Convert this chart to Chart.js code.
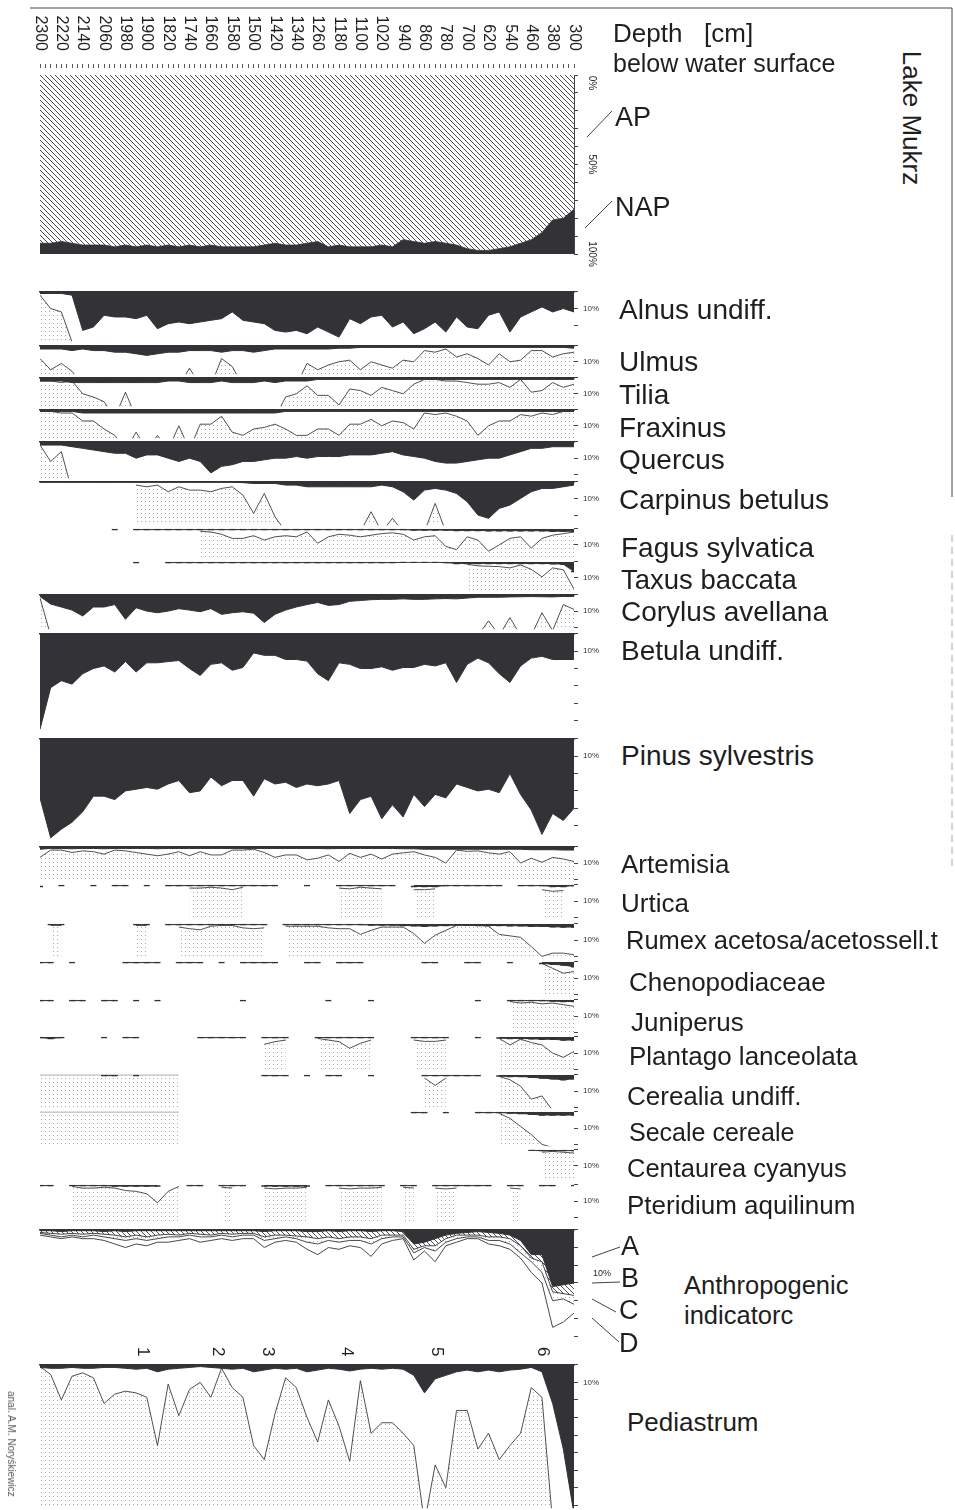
<!DOCTYPE html>
<html>
<head>
<meta charset="utf-8">
<script src="https://cdn.jsdelivr.net/npm/chart.js@4.4.1/dist/chart.umd.min.js"></script>
<style>
  body { margin: 0; width: 955px; height: 1510px; position: relative; overflow: hidden; background: #fff;
         font-family: "Liberation Sans", Arial, sans-serif; color: #1e1e1e; }
  .panel { position: absolute; left: 0; width: 620px; }
  .lbl { position: absolute; white-space: pre; line-height: 1; transform: translateY(-50%); }
  .rot { position: absolute; white-space: pre; line-height: 1; transform: translate(-50%, -50%) rotate(90deg); }
  svg { position: absolute; left: 0; top: 0; }
</style>
</head>
<body>
<svg width="955" height="1510">
  <g stroke="#444" stroke-width="1" fill="none">
    <line x1="30" y1="8" x2="952" y2="8"/>
    <line x1="952" y1="8" x2="952" y2="497"/>
    <line x1="952" y1="535" x2="952" y2="870" stroke="#aaa" stroke-dasharray="7 5"/>
    <line x1="587" y1="137" x2="612" y2="111"/>
    <line x1="585" y1="228" x2="612" y2="201"/>
    <line x1="592" y1="1257" x2="620" y2="1247"/>
    <line x1="592" y1="1283" x2="620" y2="1282"/>
    <line x1="592" y1="1299" x2="616" y2="1312"/>
    <line x1="592" y1="1318" x2="619" y2="1342"/>
  </g>
</svg>
<script>
const _ = null;
const FONT = '"Liberation Sans", Arial, sans-serif';

// depth of samples, cm below water surface
const depths = [
  2300, 2260, 2220, 2180, 2140, 2100, 2060, 2020, 1980, 1940,
  1900, 1860, 1820, 1780, 1740, 1700, 1660, 1620, 1580, 1540,
  1500, 1460, 1420, 1380, 1340, 1300, 1260, 1220, 1180, 1140,
  1100, 1060, 1020, 980, 940, 900, 860, 820, 780, 740,
  700, 660, 620, 580, 540, 500, 460, 420, 380, 340,
  300
];
const depthTicks = [2300, 2220, 2140, 2060, 1980, 1900, 1820, 1740, 1660, 1580, 1500, 1420, 1340,
  1260, 1180, 1100, 1020, 940, 860, 780, 700, 620, 540, 460, 380, 300];
const apTicks = [0, 50, 100];
const zoneDepths = [1914, 1633, 1446, 1150, 813, 416];
const zoneLabels = ['1', '2', '3', '4', '5', '6'];

// % AP (rest is NAP)
const ap = [
  94, 94, 93, 94, 95, 95, 95, 96, 95, 96,
  95, 96, 95, 96, 95, 96, 95, 96, 96, 96,
  96, 95, 94, 95, 95, 94, 93, 96, 95, 96,
  96, 96, 95, 96, 92, 93, 94, 93, 94, 95,
  97, 98, 98, 97, 96, 94, 92, 88, 81, 80,
  75
];

const alnus = [
  1, 1, 1, 2, 23, 21, 14, 15, 15, 16,
  14, 22, 19, 18, 19, 18, 17, 16, 12, 17,
  18, 19, 23, 24, 23, 25, 21, 24, 27, 16,
  19, 15, 14, 21, 18, 25, 22, 18, 24, 15,
  21, 22, 14, 12, 24, 15, 12, 9, 12, 10,
  12
];
const alnusExag = [
  2, 10, 12, 30, _, _, _, _, _, _,
  _, _, _, _, _, _, _, _, _, _,
  _, _, _, _, _, _, _, _, _, _,
  _, _, _, _, _, _, _, _, _, _,
  _, _, _, _, _, _, _, _, _, _,
  _
];
const ulmus = [
  2, 2, 2, 3, 2, 3, 3, 4, 4, 5,
  6, 5, 4, 4, 3, 3, 3, 4, 3, 3,
  4, 3, 2, 2, 2, 2, 2, 2, 1.5, 1.5,
  1, 1, 1, 1, 1, 1, 1, 1, 1, 1,
  1, 1, 1, 1, 1, 1, 1, 1, 1, 1,
  1.5
];
const ulmusExag = [
  8, 15, 11, 16, 25, _, _, _, _, _,
  _, _, _, 25, 14, 25, 25, 8, 13, 25,
  _, _, _, _, 25, 11, 15, 12, 10, 9,
  15, 10, 12, 14, 9, 10, 3, 4, 2, 7,
  5, 8, 12, 5, 10, 9, 3, 3, 7, 5,
  4
];
const tilia = [
  2, 2, 2, 3, 3, 3, 3, 3, 3, 3,
  3, 3, 2, 2, 3, 3, 3, 2, 3, 3,
  3, 2, 3, 2, 2, 2, 1, 1, 1, 1,
  1, 1, 1, 1, 1, 1, 1, 1, 1, 1,
  1, 1, 1, 1, 1, 1, 1, 1, 1, 1,
  1
];
const tiliaExag = [
  2, 2, 3, 2, 10, 12, 15, 25, 9, 25,
  _, _, _, _, _, _, _, _, _, _,
  _, _, 25, 12, 10, 5, 11, 11, 17, 7,
  8, 11, 6, 8, 10, 4, 1, 1, 2, 2,
  3, 4, 4, 3, 6, 1, 9, 8, 3, 6,
  4
];
const fraxinus = [
  1, 1, 1, 1, 2, 2, 2, 2, 2, 2,
  2, 2, 2, 2, 2, 2, 2, 2, 2, 2,
  2, 2, 2, 1, 1, 1, 1, 1, 1, 1,
  1, 1, 1, 1, 1, 1, 1, 1, 1, 1,
  1, 1, 1, 1, 1, 1, 1, 1, 1, 1,
  1
];
const fraxinusExag = [
  1, 1, 2, 2, 7, 7, 12, 16, 25, 14,
  25, 16, 25, 10, 25, 9, 9, 4, 14, 16,
  12, 11, 9, 12, 16, 16, 12, 12, 16, 9,
  9, 6, 10, 7, 8, 12, 2, 3, 2, 4,
  7, 16, 10, 7, 7, 3, 4, 2, 3, 1,
  1
];
const quercus = [
  2, 2, 2, 3, 4, 5, 6, 7, 7, 10,
  8, 8, 10, 12, 10, 12, 19, 15, 14, 12,
  12, 11, 10, 10, 9, 10, 9, 9, 9, 8,
  8, 8, 7, 6, 8, 9, 10, 12, 13, 13,
  12, 11, 10, 10, 8, 6, 4, 4, 3, 3,
  3
];
const quercusExag = [
  2, 12, 6, 30, _, _, _, _, _, _,
  _, _, _, _, _, _, _, _, _, _,
  _, _, _, _, _, _, _, _, _, _,
  _, _, _, _, _, _, _, _, _, _,
  _, _, _, _, _, _, _, _, _, _,
  _
];
const carpinus = [
  0.3, 0.3, 0.3, 0.3, 0.3, 0.3, 0.3, 0.3, 0.3, 0.3,
  0.3, 0.3, 0.3, 0.3, 0.3, 0.3, 0.3, 0.3, 0.3, 0.5,
  1, 1, 1, 2, 2, 3, 3, 3, 3, 3,
  3, 3, 2, 3, 6, 11, 5, 4, 5, 7,
  12, 20, 22, 16, 14, 10, 6, 4, 4, 3,
  2
];
const carpinusExag = [
  _, _, _, _, _, _, _, _, _, 2,
  3, 2, 6, 3, 5, 5, 6, 4, 3, 8,
  19, 7, 21, 30, _, _, _, _, _, _,
  30, 18, 30, 22, 30, _, 30, 13, 30, _,
  _, _, _, _, _, _, _, _, _, _,
  _
];
const fagus = [
  _, _, _, _, _, _, _, 0.5, _, 0.5,
  0.5, 0.5, 0.5, 0.5, 0.5, 0.5, 0.5, 0.5, 0.5, 0.5,
  0.5, 0.5, 0.5, 0.5, 0.5, 0.5, 0.5, 0.5, 0.5, 0.5,
  0.5, 0.5, 0.5, 0.5, 0.5, 0.8, 0.8, 0.8, 0.8, 1,
  1, 1, 1.2, 1.2, 1.2, 1.2, 1.2, 1.2, 1.5, 1.5,
  1.5
];
const fagusExag = [
  _, _, _, _, _, _, _, _, _, _,
  _, _, _, _, _, 1.5, 2, 3.4, 6, 6,
  4.3, 7, 5, 4.3, 5, 2, 9, 5, 3.4, 4,
  5, 4, 3, 2.5, 3.4, 7, 5, 4.3, 11, 13,
  5, 7, 14, 10, 6, 5, 12, 6, 4, 3,
  2
];
const taxus = [
  _, _, _, _, _, _, _, _, _, 0.5,
  _, _, 0.5, 0.5, 0.5, 0.5, 0.5, 0.5, 0.5, 0.5,
  0.5, 0.5, 0.5, 0.5, 0.5, 0.5, 0.5, 0.5, 0.5, 0.5,
  0.5, 0.5, 0.5, 0.5, 0.3, 0.3, 0.3, 0.3, 0.5, 1,
  1, 1, 1, 1, 1, 1, 1, 1, 1.2, 1.5,
  6
];
const taxusExag = [
  _, _, _, _, _, _, _, _, _, _,
  _, _, _, _, _, _, _, _, _, _,
  _, _, _, _, _, _, _, _, _, _,
  _, _, _, _, _, _, _, _, _, _,
  1.5, 2.5, 2.8, 3, 3.8, 2, 4.7, 9.4, 3.8, 5,
  17
];
const corylus = [
  1, 5.7, 7.5, 9.4, 13, 7.5, 7.5, 6, 15, 8,
  10, 11, 10, 8.5, 9.4, 10.4, 8.5, 12, 11, 10.4,
  11.3, 17, 12, 9.4, 7.5, 6, 4.7, 6.5, 6, 4,
  3.5, 3, 2.8, 2.8, 2.5, 2.8, 2.8, 2.5, 2.3, 2.5,
  2, 1.5, 1.5, 1.5, 1.3, 1.2, 1.1, 1.2, 1.3, 1,
  1
];
const corylusExag = [
  2, 25, _, _, _, _, _, _, _, _,
  _, _, _, _, _, _, _, _, _, _,
  _, _, _, _, _, _, _, _, _, _,
  _, _, _, _, _, _, _, _, _, _,
  _, 25, 16, 25, 14, 25, 25, 11, 22, 6,
  9
];
const betula = [
  55, 31, 27, 29, 23, 20, 18.5, 22, 16, 22,
  16.7, 16.7, 16, 15.4, 20, 24, 17.6, 16.7, 21, 19.4,
  11, 12.4, 12.4, 14.8, 14.8, 15.7, 23, 27, 16.7, 17.6,
  20, 20, 19, 21, 19.4, 19.4, 17.6, 18.5, 16.7, 28,
  17.6, 14, 16.7, 23, 28, 18.5, 14, 13, 14.8, 14.8,
  14.8
];
const pinus = [
  34, 57, 52, 48, 42, 33, 33, 35, 30, 29,
  28, 29, 26, 24, 31, 30, 22, 27, 24, 24,
  33, 23, 26, 25, 28, 26, 27, 26, 24, 43,
  35, 33, 46, 38, 45, 32, 39, 32, 34, 26,
  28, 30, 29, 31, 20, 32, 41, 55, 43, 47,
  40
];
const artemisia = [
  1.5, 1, 1, 1.2, 1, 1, 1.2, 1, 1, 1,
  1, 1.2, 1, 1, 1, 1, 1, 1, 1, 1,
  1, 1, 1, 1, 1, 1, 1, 1.2, 1, 1,
  1, 1, 1, 1, 1.2, 1.2, 1.5, 1.5, 1.5, 1.5,
  1.5, 1.5, 1.5, 1.5, 1.5, 1.5, 1.8, 1.8, 1.8, 2,
  2
];
const artemisiaExag = [
  6.5, 2, 2, 3.5, 2.5, 3, 4.5, 2, 2.5, 3.5,
  4.5, 5.5, 4.5, 3, 5.5, 3, 5, 5, 2, 2,
  1.5, 3.5, 6.5, 5, 5, 8, 7, 5, 9, 4,
  6.5, 4.5, 7.5, 4.5, 3.7, 3, 5, 6.5, 10, 2,
  2.8, 2.5, 3.7, 4.5, 3, 10, 7, 9.5, 6.5, 7.5,
  9
];
const urtica = [
  1, _, 0.5, _, _, 0.5, _, 0.5, 0.5, _,
  0.5, _, 0.5, 0.5, 0.5, 0.5, 0.5, 0.5, 0.5, 0.5,
  0.5, 0.5, 0.5, _, _, 0.5, _, _, 0.5, 0.5,
  0.5, 0.5, 0.5, 0.5, _, 1, 1, 1, 0.5, 0.5,
  0.5, 0.5, 0.5, 0.5, _, 0.5, 0.5, 0.5, 1, 1,
  0.5
];
const urticaExag = [
  _, _, _, _, _, _, _, _, _, _,
  _, _, _, _, 2, 2, 1.5, 2, 3, 1.5,
  _, _, _, _, _, _, _, _, 2, 2.5,
  1.5, 2, 2.5, _, _, 3, 3, 2.5, _, _,
  _, _, _, _, _, _, _, 3, 4, 3.5,
  _
];
const rumex = [
  _, 0.5, 0.5, _, _, _, _, _, _, 0.5,
  0.5, _, 0.5, 0.5, 0.5, 0.5, 0.5, 0.5, 0.5, 0.5,
  0.5, 0.5, _, 0.5, 0.5, 0.5, 0.5, 0.5, 0.5, 0.5,
  0.5, 0.8, 0.8, 0.8, 1, 1.2, 1.5, 1.2, 1, 0.8,
  0.8, 1, 1, 1, 1.2, 1.2, 1.5, 1.5, 1.8, 2,
  2
];
const rumexExag = [
  _, 1, 1, _, _, _, _, _, _, 1,
  1, _, _, 2, 3, 3.7, 1.5, 1, 1, 2.5,
  3, 2.5, _, 1.5, 1.5, 1.5, 1.5, 2.5, 3, 3,
  6.5, 4, 2, 2, 2, 6, 12, 7, 4, 1,
  1, 1, 1.5, 6.5, 7.4, 8.3, 14, 20, 18, 18,
  19
];
const cheno = [
  0.5, 0.5, _, 0.5, _, _, _, _, 0.5, 0.5,
  0.5, 0.5, _, 0.5, 0.5, 0.5, _, 0.5, _, 0.5,
  0.5, 0.5, 0.5, _, _, 0.5, 0.5, _, 0.5, 0.5,
  0.5, _, _, _, _, _, 0.5, 0.5, _, _,
  0.5, 0.5, _, _, 0.5, _, _, 1, 1.5, 2,
  3
];
const chenoExag = [
  _, _, _, _, _, _, _, _, _, _,
  _, _, _, _, _, _, _, _, _, _,
  _, _, _, _, _, _, _, _, _, _,
  _, _, _, _, _, _, _, _, _, _,
  _, _, _, _, _, _, _, 1, 4, 7,
  6
];
const juniperus = [
  0.5, 0.5, _, 0.5, 0.5, _, 0.5, 0.5, _, 0.5,
  _, 0.5, _, _, _, _, _, _, _, 0.5,
  _, _, _, _, _, _, _, 0.5, _, _,
  _, 0.5, _, _, _, _, _, _, _, _,
  _, 0.5, _, _, 0.5, 0.5, 0.5, 0.5, 0.8, 1,
  1
];
const juniperusExag = [
  _, _, _, _, _, _, _, _, _, _,
  _, _, _, _, _, _, _, _, _, _,
  _, _, _, _, _, _, _, _, _, _,
  _, _, _, _, _, _, _, _, _, _,
  _, _, _, _, 1, 2, 1.5, 2.5, 2, 3,
  4
];
const plantago = [
  0.5, 1, 0.5, _, _, _, 0.5, _, 0.5, 0.5,
  _, _, _, _, _, 0.5, 0.5, 0.5, 0.5, 0.5,
  _, 0.5, 0.5, 0.5, _, _, 0.5, 0.5, 0.5, 0.5,
  0.5, 0.5, _, _, _, 0.5, 0.5, 0.5, 0.5, _,
  _, 0.5, _, 0.8, 1, 1, 1.2, 1.5, 1.5, 2,
  2
];
const plantagoExag = [
  _, _, _, _, _, _, _, _, _, _,
  _, _, _, _, _, _, _, _, _, _,
  _, 4.6, 3, 2, _, _, 1, 2, 3, 7,
  4, 2, _, _, _, 2, 2.8, 2.8, 2, _,
  _, _, _, 1, 5, 1.5, 3.5, 5, 10, 12.6,
  9
];
const cerealia = [
  _, _, _, _, _, _, 0.5, 0.5, _, 0.5,
  _, _, _, _, _, _, _, _, _, _,
  _, 0.5, 0.5, 0.5, _, 0.5, _, 0.5, 0.5, _,
  _, 0.5, _, _, _, _, 0.5, 0.5, 0.5, 0.5,
  0.5, 0.5, _, 0.8, 1, 1, 1.5, 2, 2.5, 3,
  2.5
];
const cerealiaExag = [
  0, 0, 0, 0, 0, 0, 0, 0, 0, 0,
  0, 0, 0, 0, _, _, _, _, _, _,
  _, _, _, _, _, _, _, _, _, _,
  _, _, _, _, _, _, 2, 6.5, 2, _,
  _, _, _, 1, 3, 7, 15, 13, 22, 22,
  22
];
const secale = [
  _, _, _, _, _, _, _, _, _, _,
  _, _, _, _, _, _, _, _, _, _,
  _, _, _, _, _, _, _, _, _, _,
  _, _, _, _, _, 0.5, 0.5, _, 0.5, _,
  _, 0.5, 0.5, 0.5, 0.8, 1, 1.5, 2, 2, 2,
  2
];
const secaleExag = [
  0, 0, 0, 0, 0, 0, 0, 0, 0, 0,
  0, 0, 0, 0, _, _, _, _, _, _,
  _, _, _, _, _, _, _, _, _, _,
  _, _, _, _, _, _, _, _, _, _,
  _, _, _, 1, 4, 9, 14, 20, 22, 22,
  22
];
const centaurea = [
  _, _, _, _, _, _, _, _, _, _,
  _, _, _, _, _, _, _, _, _, _,
  _, _, _, _, _, _, _, _, _, _,
  _, _, _, _, _, _, _, _, _, _,
  _, _, _, _, _, _, 0.3, 0.5, 0.5, 0.5,
  0.5
];
const centaureaExag = [
  _, _, _, _, _, _, _, _, _, _,
  _, _, _, _, _, _, _, _, _, _,
  _, _, _, _, _, _, _, _, _, _,
  _, _, _, _, _, _, _, _, _, _,
  _, _, _, _, _, _, _, 1.5, 1, 1.5,
  2
];
const pteridium = [
  0.5, 0.5, _, 0.5, 0.5, 0.5, 0.5, 0.8, 0.8, 0.8,
  0.8, 0.8, _, _, 0.5, 0.5, _, 0.5, 0.5, 0.5,
  _, 0.8, 0.8, 0.8, 0.8, 0.8, _, 0.5, 0.5, 0.5,
  0.5, 0.5, 0.5, _, 0.5, 0.5, _, 0.5, 0.5, 0.5,
  0.5, 0.5, 0.5, _, 0.5, 0.5, _, 0.5, 0.5, _,
  0.5
];
const pteridiumExag = [
  _, _, _, 1, 2, 2, 1.5, 2, 3.5, 4,
  5.5, 11, 4, 1, _, _, _, 1.5, 2, _,
  _, 2, 2.5, 2, 2, 1.5, _, _, 2, 2.5,
  2, 2, 1.5, _, 1.5, 2, _, 2, 2.5, 2,
  _, _, _, _, 2, 2.5, _, _, _, _,
  _
];
// anthropogenic indicators, cumulative curves A-D
const anthroA = [
  0.5, 0.5, 1, 0.5, 0.5, 0.5, 1, 0.5, 1, 0.5,
  0.5, 0.5, 0.5, 0.5, 0.5, 0.5, 0.5, 0.5, 0.5, 0.5,
  0.5, 1, 0.5, 0.5, 0.5, 1, 1, 0.5, 1, 0.5,
  0.5, 1, 0.5, 0.5, 1, 8, 7, 5, 3, 2,
  1.5, 1, 1.5, 2, 3, 6, 14, 14, 32, 31,
  30
];
const anthroB = [
  1.5, 2, 2.5, 2, 2.5, 2, 2.5, 3, 4, 3,
  4, 3, 2.5, 3, 2, 2.5, 3, 2, 2.5, 2,
  2, 4, 3, 3, 3.5, 4, 5, 4, 5, 4,
  4, 5, 3, 3, 3, 11, 9, 9, 5, 3,
  3, 3, 4, 4, 5, 9, 16, 18, 35, 36,
  37
];
const anthroC = [
  2, 3, 4, 3, 4, 3, 4, 5, 6, 5,
  6, 5, 4, 4, 3, 4, 4, 3, 4, 3,
  3, 6, 5, 4, 5, 7, 8, 6, 7, 6,
  6, 8, 5, 4, 4, 13, 10, 12, 7, 5,
  4, 4, 6, 6, 8, 13, 18, 24, 40, 39,
  42
];
const anthroD = [
  3, 4, 5, 4, 5, 5, 6, 8, 10, 8,
  9, 7, 7, 6, 5, 7, 6, 5, 6, 5,
  5, 10, 7, 6, 7, 11, 14, 10, 11, 9,
  10, 15, 8, 6, 5, 17, 12, 18, 9, 7,
  5, 5, 8, 9, 11, 16, 24, 30, 55, 52,
  47
];
const pediastrum = [
  1.5, 2, 2, 1.5, 2, 2, 1.5, 1.5, 2, 2.5,
  2, 4, 2.5, 2, 1.5, 1, 1.5, 2, 2.5, 2,
  4, 3, 2, 2.5, 2, 4, 3, 2, 2.5, 3.5,
  2.5, 2, 2.5, 2, 2.5, 6, 16, 8, 6, 4,
  3, 4, 3, 4, 3, 2.5, 1.5, 4, 22, 48,
  85
];
const pediastrumExag = [
  1, 5.5, 20, 6.5, 4.6, 7.4, 22, 16.7, 15, 16,
  18.5, 46, 11, 29, 14, 10, 18.5, 2, 13, 18.5,
  46, 54, 28, 7.4, 13, 30, 44, 20, 35, 55,
  9, 39, 33, 33, 39, 46, 90, 57, 70, 26,
  26, 48, 39, 54, 46, 39, 13, 18.5, 90, _,
  _
];

// ---- drawing ----
const PX_PER_PCT = 1.8;
const PANEL_W = 620, PLOT_L = 40, PLOT_R = 574, AXIS_W = 30;
const INK = '#333337';

Chart.defaults.font.family = FONT;
Chart.defaults.animation = false;
Chart.defaults.events = [];
Chart.defaults.plugins.legend.display = false;
Chart.defaults.plugins.tooltip.enabled = false;
Chart.defaults.elements.point.radius = 0;
Chart.defaults.elements.line.tension = 0;

function makePattern(kind) {
  const c = document.createElement('canvas');
  const g = c.getContext('2d');
  if (kind === 'hatch') {
    c.width = c.height = 5;
    g.strokeStyle = '#3a3a3a';
    g.lineWidth = 0.9;
    g.beginPath();
    g.moveTo(-1, -1); g.lineTo(6, 6);
    g.moveTo(4, -1); g.lineTo(6, 1);
    g.moveTo(-1, 4); g.lineTo(1, 6);
    g.stroke();
  } else {
    c.width = c.height = 4;
    g.fillStyle = '#a8a8a8';
    g.fillRect(1, 1, 1, 1);
  }
  return g.createPattern(c, 'repeat');
}
const HATCH = makePattern('hatch');
const DOTS = makePattern('dots');

function silhouette(values, dashes) {
  return {
    data: values, fill: 'origin', backgroundColor: INK, borderColor: INK, borderWidth: 1,
    pointRadius: dashes ? 3 : 0, pointStyle: 'line', pointBorderColor: INK, pointBorderWidth: 1.5
  };
}
function exaggeration(values) {
  return { data: values, fill: 'start', backgroundColor: DOTS, borderColor: '#3c3c3c', borderWidth: 0.9 };
}

function panel(top, height, datasets, o = {}) {
  const padT = 8, padB = o.padB || 8;
  const box = document.createElement('div');
  box.className = 'panel';
  box.style.top = (top - padT) + 'px';
  box.style.height = (height + padT + padB) + 'px';
  const cv = document.createElement('canvas');
  box.appendChild(cv);
  document.body.appendChild(box);
  return new Chart(cv, {
    type: 'line',
    data: { labels: depths, datasets },
    options: {
      responsive: true,
      maintainAspectRatio: false,
      layout: { padding: { left: PLOT_L, right: PANEL_W - PLOT_R - AXIS_W, top: padT, bottom: padB } },
      scales: {
        x: {
          type: 'linear', position: 'top', min: 300, max: 2300, reverse: true,
          ticks: { display: false },
          grid: { display: false, drawTicks: false },
          border: { display: o.baseline !== false, color: INK, width: 1.5 }
        },
        y: {
          position: 'right', reverse: true, min: 0, max: height / PX_PER_PCT,
          ticks: {
            stepSize: 10, includeBounds: false, padding: 5, color: '#333', font: { size: 8 },
            callback: v => (v === 10 && o.tenLabel !== false) ? '10%' : ''
          },
          grid: { drawOnChartArea: false, tickLength: 4, color: '#444' },
          border: { display: false },
          afterFit: s => { s.width = AXIS_W; }
        }
      }
    },
    plugins: o.plugins || []
  });
}

// header: depth scale + AP / NAP
const headerLabels = {
  id: 'headerLabels',
  afterDraw(chart) {
    const { ctx, scales: { x, y } } = chart;
    ctx.save();
    ctx.fillStyle = '#1e1e1e';
    ctx.font = '16px ' + FONT;
    ctx.textAlign = 'right';
    ctx.textBaseline = 'middle';
    depthTicks.forEach(v => {
      ctx.save();
      ctx.translate(x.getPixelForValue(v), 51);
      ctx.rotate(Math.PI / 2);
      ctx.fillText(String(v), 0, 0);
      ctx.restore();
    });
    ctx.font = '10px ' + FONT;
    ctx.textAlign = 'center';
    apTicks.forEach(v => {
      ctx.save();
      ctx.translate(y.left + 18, Math.max(y.getPixelForValue(v), y.top + 8));
      ctx.rotate(Math.PI / 2);
      ctx.fillText(v + '%', 0, 0);
      ctx.restore();
    });
    ctx.restore();
  }
};

(function () {
  const box = document.createElement('div');
  box.className = 'panel';
  box.style.top = '0px';
  box.style.height = '272px';
  const cv = document.createElement('canvas');
  box.appendChild(cv);
  document.body.appendChild(box);
  new Chart(cv, {
    type: 'line',
    data: {
      labels: depths,
      datasets: [
        { data: ap, fill: 'origin', backgroundColor: HATCH, borderColor: INK, borderWidth: 0.8 },
        { data: ap, fill: 'start', backgroundColor: INK, borderWidth: 0 }
      ]
    },
    options: {
      responsive: true,
      maintainAspectRatio: false,
      layout: { padding: { left: PLOT_L, right: PANEL_W - PLOT_R - AXIS_W, top: 64, bottom: 18 } },
      scales: {
        x: {
          type: 'linear', position: 'top', min: 300, max: 2300, reverse: true,
          ticks: { display: false, stepSize: 20 },
          grid: { drawOnChartArea: false, tickLength: 11, tickBorderDash: [4, 20], tickColor: '#555' },
          border: { display: false }
        },
        y: {
          position: 'right', reverse: true, min: 0, max: 100,
          ticks: { display: false, stepSize: 10 },
          grid: { drawOnChartArea: false, tickLength: 4, color: '#444' },
          border: { display: true, color: '#444' },
          afterFit: s => { s.width = AXIS_W; }
        }
      }
    },
    plugins: [headerLabels]
  });
})();

const DASHED = { baseline: false };

panel(290, 53, [silhouette(alnus), exaggeration(alnusExag)]);
panel(344, 32, [silhouette(ulmus), exaggeration(ulmusExag)]);
panel(376, 32, [silhouette(tilia), exaggeration(tiliaExag)]);
panel(408, 32, [silhouette(fraxinus), exaggeration(fraxinusExag)]);
panel(440, 40, [silhouette(quercus), exaggeration(quercusExag)]);
panel(480, 47, [silhouette(carpinus), exaggeration(carpinusExag)]);
panel(527, 33, [silhouette(fagus, true), exaggeration(fagusExag)], DASHED);
panel(560, 33, [silhouette(taxus, true), exaggeration(taxusExag)], DASHED);
panel(593, 38, [silhouette(corylus), exaggeration(corylusExag)]);
panel(632, 102, [silhouette(betula)]);
panel(737, 104, [silhouette(pinus)]);
panel(845, 38, [silhouette(artemisia), exaggeration(artemisiaExag)]);
panel(883, 39, [silhouette(urtica, true), exaggeration(urticaExag)], DASHED);
panel(922, 38, [silhouette(rumex, true), exaggeration(rumexExag)], DASHED);
panel(960, 38, [silhouette(cheno, true), exaggeration(chenoExag)], DASHED);
panel(998, 37, [silhouette(juniperus, true), exaggeration(juniperusExag)], DASHED);
panel(1035, 38, [silhouette(plantago, true), exaggeration(plantagoExag)], DASHED);
panel(1073, 37, [silhouette(cerealia, true), exaggeration(cerealiaExag)], DASHED);
panel(1110, 38, [silhouette(secale, true), exaggeration(secaleExag)], DASHED);
panel(1148, 35, [silhouette(centaurea, true), exaggeration(centaureaExag)], DASHED);
panel(1183, 40, [silhouette(pteridium, true), exaggeration(pteridiumExag)], DASHED);

const zonePlugin = {
  id: 'zones',
  afterDraw(chart) {
    const { ctx, chartArea, scales: { x } } = chart;
    ctx.save();
    ctx.font = '17px ' + FONT;
    ctx.fillStyle = '#1e1e1e';
    ctx.textAlign = 'center';
    ctx.textBaseline = 'middle';
    zoneDepths.forEach((d, i) => {
      ctx.save();
      ctx.translate(x.getPixelForValue(d), chartArea.top + 122);
      ctx.rotate(Math.PI / 2);
      ctx.fillText(zoneLabels[i], 0, 0);
      ctx.restore();
    });
    ctx.restore();
  }
};

panel(1228, 120, [
  { data: anthroA, fill: 'origin', backgroundColor: INK, borderColor: INK, borderWidth: 1 },
  { data: anthroB, fill: '-1', backgroundColor: HATCH, borderColor: '#333', borderWidth: 0.9 },
  { data: anthroC, fill: '-1', backgroundColor: DOTS, borderColor: '#333', borderWidth: 0.9 },
  { data: anthroD, fill: false, borderColor: '#333', borderWidth: 0.9 }
], { tenLabel: false, padB: 16, plugins: [zonePlugin] });

panel(1363, 147, [silhouette(pediastrum), exaggeration(pediastrumExag)]);

// taxon names and other captions
const captions = [
  ['Depth   [cm]', 613, 33, 26], ['below water surface', 613, 63, 25],
  ['AP', 615, 117, 27], ['NAP', 615, 207, 27],
  ['Alnus undiff.', 619, 310, 28], ['Ulmus', 619, 362, 28], ['Tilia', 619, 395, 28],
  ['Fraxinus', 619, 428, 28], ['Quercus', 619, 460, 28], ['Carpinus betulus', 619, 500, 28],
  ['Fagus sylvatica', 621, 548, 28], ['Taxus baccata', 621, 580, 27.5], ['Corylus avellana', 621, 612, 28],
  ['Betula undiff.', 621, 651, 28], ['Pinus sylvestris', 621, 756, 28],
  ['Artemisia', 621, 864, 26], ['Urtica', 621, 903, 26], ['Rumex acetosa/acetossell.t', 626, 941, 25.5],
  ['Chenopodiaceae', 629, 982, 26], ['Juniperus', 631, 1022, 26], ['Plantago lanceolata', 629, 1056, 26],
  ['Cerealia undiff.', 627, 1096, 26], ['Secale cereale', 629, 1132, 25], ['Centaurea cyanyus', 627, 1169, 25.5],
  ['Pteridium aquilinum', 627, 1205, 26],
  ['A', 621, 1246, 27], ['B', 621, 1278, 27], ['C', 619, 1310, 27], ['D', 619, 1343, 27],
  ['10%', 593, 1273, 9],
  ['Anthropogenic', 684, 1286, 25.5], ['indicatorc', 684, 1316, 25.5],
  ['Pediastrum', 627, 1422, 26]
];
captions.forEach(([text, x, cy, size]) => {
  const d = document.createElement('div');
  d.className = 'lbl';
  d.textContent = text;
  d.style.left = x + 'px';
  d.style.top = cy + 'px';
  d.style.fontSize = size + 'px';
  document.body.appendChild(d);
});
[['Lake Mukrz', 912, 118, 26, '#1e1e1e'], ['anal. A.M. Noryśkiewicz', 11, 1444, 10, '#555']].forEach(([text, x, cy, size, color]) => {
  const d = document.createElement('div');
  d.className = 'rot';
  d.textContent = text;
  d.style.left = x + 'px';
  d.style.top = cy + 'px';
  d.style.fontSize = size + 'px';
  d.style.color = color;
  document.body.appendChild(d);
});
</script>
</body>
</html>
